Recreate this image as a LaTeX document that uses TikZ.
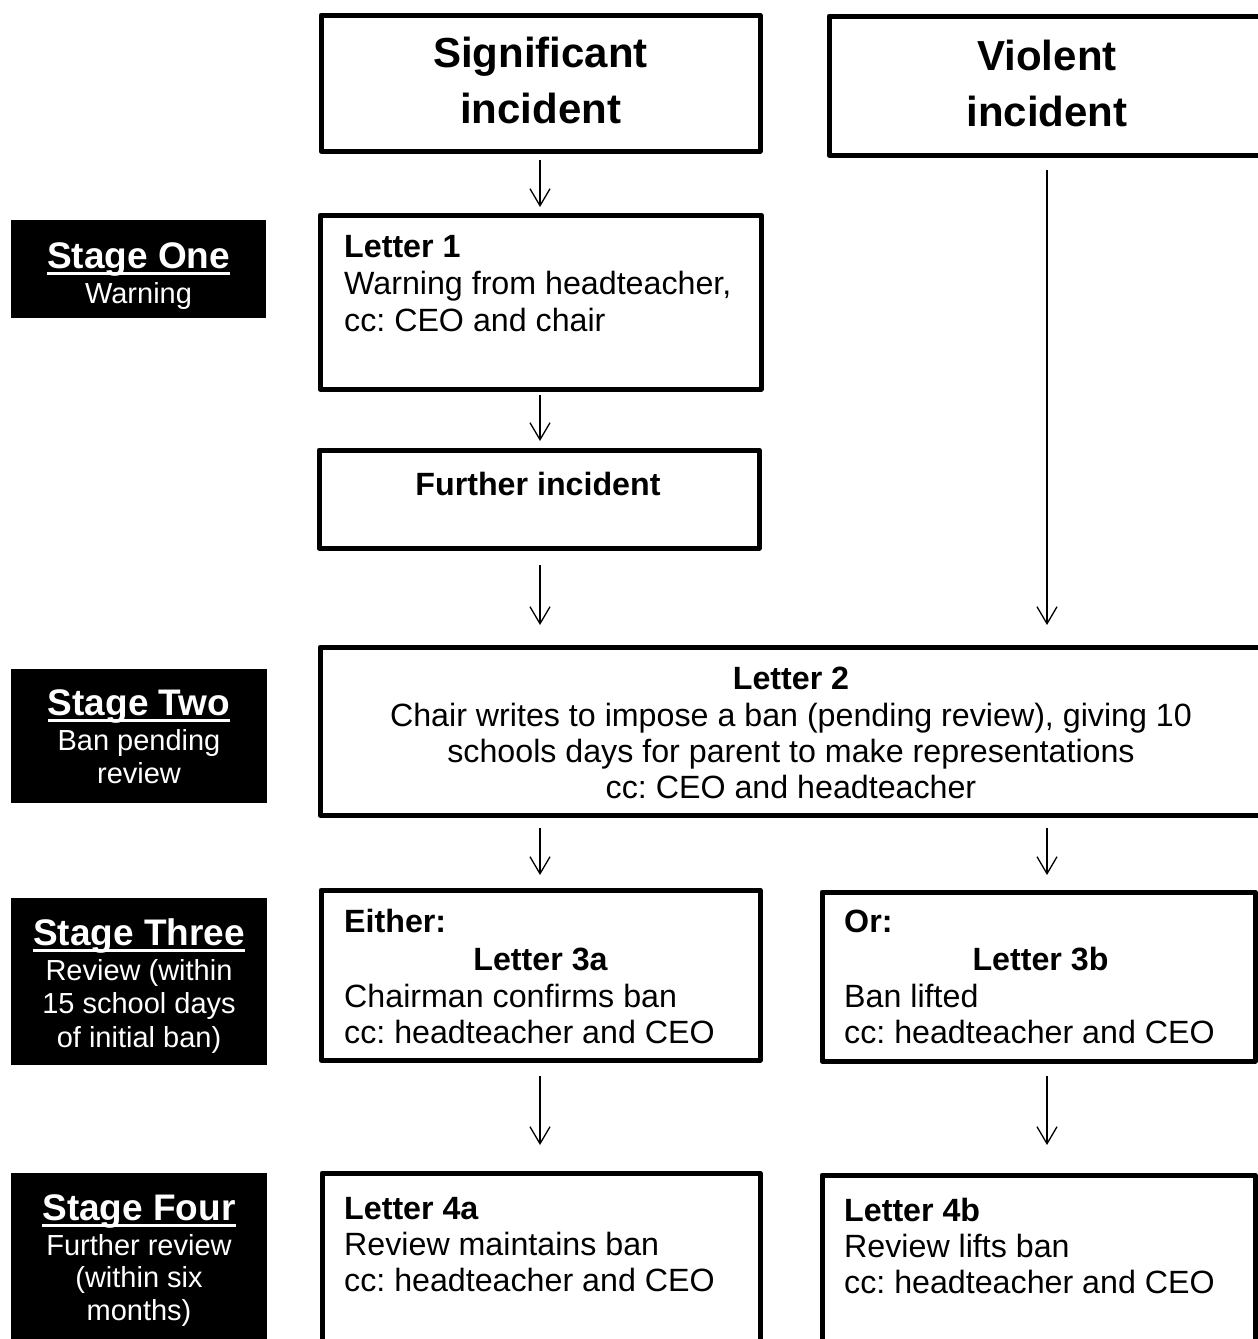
\documentclass[tikz,border=0pt]{standalone}
\usepackage{fontspec}
\setmainfont{Liberation Sans}
\usetikzlibrary{arrows.meta}
\frenchspacing
\tikzset{
  box/.style={draw, line width=5pt, line join=round, rectangle, inner sep=0pt},
  stagebox/.style={fill=black, rectangle, inner sep=0pt},
  ttl/.style={font=\fontsize{42}{56}\selectfont\bfseries, anchor=base, inner sep=0pt},
  bodyl/.style={font=\fontsize{32.2}{37}\selectfont, anchor=base west, inner sep=0pt},
  bodybl/.style={font=\fontsize{32.2}{37}\selectfont\bfseries, anchor=base west, inner sep=0pt},
  bodyc/.style={font=\fontsize{32.2}{37}\selectfont, anchor=base, inner sep=0pt},
  bodybc/.style={font=\fontsize{32.2}{37}\selectfont\bfseries, anchor=base, inner sep=0pt},
  sttl/.style={font=\fontsize{37}{42}\selectfont\bfseries, text=white, anchor=base, inner sep=0pt},
  ssub/.style={font=\fontsize{29}{33}\selectfont, text=white, anchor=base, inner sep=0pt},
  uline/.style={draw=white, line width=3pt},
  arr/.style={line width=1.3pt, -{Straight Barb[length=17pt,width=20pt]}}
}
\begin{document}
\begin{tikzpicture}[x=1pt,y=-1pt]
\useasboundingbox (0,0) rectangle (1258,1339);
\clip (0,0) rectangle (1258,1339);
% stage boxes
\node[stagebox, minimum width=255pt, minimum height=98pt] (s1) at (138.5,269) {};
\node[stagebox, minimum width=256pt, minimum height=134pt] (s2) at (139,736) {};
\node[stagebox, minimum width=256pt, minimum height=167pt] (s3) at (139,981.5) {};
\node[stagebox, minimum width=256pt, minimum height=187pt] (s4) at (139,1266.5) {};
% stage texts
\node[sttl] (s1t) at (138.5,268) {Stage One};
\node[ssub] (s1a) at (138.5,303) {Warning};
\node[sttl] (s2t) at (139,715) {Stage Two};
\node[ssub] (s2a) at (139,750) {Ban pending};
\node[ssub] (s2b) at (139,783) {review};
\node[sttl] (s3t) at (139,945) {Stage Three};
\node[ssub] (s3a) at (139,980) {Review (within};
\node[ssub] (s3b) at (139,1013) {15 school days};
\node[ssub] (s3c) at (139,1047) {of initial ban)};
\node[sttl] (s4t) at (139,1220) {Stage Four};
\node[ssub] (s4a) at (139,1255) {Further review};
\node[ssub] (s4b) at (139,1287) {(within six};
\node[ssub] (s4c) at (139,1320) {months)};
\foreach \n in {s1t,s2t,s3t,s4t}
  \draw[uline] ([yshift=-5pt]\n.base west) -- ([yshift=-5pt]\n.base east);
% main boxes
\node[box, minimum width=439pt, minimum height=136pt] (sig) at (540.5,83) {};
\node[box, minimum width=436pt, minimum height=139pt] (vio) at (1047,85.5) {};
\node[box, minimum width=441pt, minimum height=174pt] (l1) at (540.5,302) {};
\node[box, minimum width=440pt, minimum height=98pt] (fi) at (539,499) {};
\node[box, minimum width=942pt, minimum height=168pt] (l2) at (791,731) {};
\node[box, minimum width=439pt, minimum height=170pt] (l3a) at (540.5,975) {};
\node[box, minimum width=433pt, minimum height=169pt] (l3b) at (1038.5,976.5) {};
\node[box, minimum width=438pt, minimum height=187pt] (l4a) at (541,1266.5) {};
\node[box, minimum width=433pt, minimum height=187pt] (l4b) at (1038.5,1268.5) {};
% titles
\node[ttl] (sig1) at (540.5,67) {Significant};
\node[ttl] (sig2) at (540.5,123) {incident};
\node[ttl] (vio1) at (1047,70) {Violent};
\node[ttl] (vio2) at (1047,126) {incident};
% letter 1
\node[bodybl] (l1a) at (344,257) {Letter 1};
\node[bodyl] (l1b) at (344,294) {Warning from headteacher,};
\node[bodyl] (l1c) at (344,331) {cc: CEO and chair};
% further incident
\node[bodybc] (fit) at (538,495) {Further incident};
% letter 2
\node[bodybc] (l2a) at (791,689) {Letter 2};
\node[bodyc] (l2b) at (791,726) {Chair writes to impose a ban (pending review), giving 10};
\node[bodyc] (l2c) at (791,762) {schools days for parent to make representations};
\node[bodyc] (l2d) at (791,798) {cc: CEO and headteacher};
% letter 3a
\node[bodybl] (l3a1) at (344,932) {Either:};
\node[bodybc] (l3a2) at (540.5,970) {Letter 3a};
\node[bodyl] (l3a3) at (344,1007) {Chairman confirms ban};
\node[bodyl] (l3a4) at (344,1043) {cc: headteacher and CEO};
% letter 3b
\node[bodybl] (l3b1) at (844,932) {Or:};
\node[bodybc] (l3b2) at (1040.5,970) {Letter 3b};
\node[bodyl] (l3b3) at (844,1007) {Ban lifted};
\node[bodyl] (l3b4) at (844,1043) {cc: headteacher and CEO};
% letter 4a
\node[bodybl] (l4a1) at (344,1219) {Letter 4a};
\node[bodyl] (l4a2) at (344,1255) {Review maintains ban};
\node[bodyl] (l4a3) at (344,1291) {cc: headteacher and CEO};
% letter 4b
\node[bodybl] (l4b1) at (844,1221) {Letter 4b};
\node[bodyl] (l4b2) at (844,1257) {Review lifts ban};
\node[bodyl] (l4b3) at (844,1293) {cc: headteacher and CEO};
% arrow end points
\coordinate (a1s) at (540,160); \coordinate (a1e) at (540,207);
\coordinate (a2s) at (540,395); \coordinate (a2e) at (540,441);
\coordinate (a3s) at (540,565); \coordinate (a3e) at (540,625);
\coordinate (avs) at (1047,170); \coordinate (ave) at (1047,625);
\coordinate (a4s) at (540,828); \coordinate (a4e) at (540,875);
\coordinate (a5s) at (1047,828); \coordinate (a5e) at (1047,875);
\coordinate (a6s) at (540,1076); \coordinate (a6e) at (540,1145);
\coordinate (a7s) at (1047,1076); \coordinate (a7e) at (1047,1145);
\draw[arr] (a1s) -- (a1e);
\draw[arr] (a2s) -- (a2e);
\draw[arr] (a3s) -- (a3e);
\draw[arr] (avs) -- (ave);
\draw[arr] (a4s) -- (a4e);
\draw[arr] (a5s) -- (a5e);
\draw[arr] (a6s) -- (a6e);
\draw[arr] (a7s) -- (a7e);
\end{tikzpicture}
\end{document}
